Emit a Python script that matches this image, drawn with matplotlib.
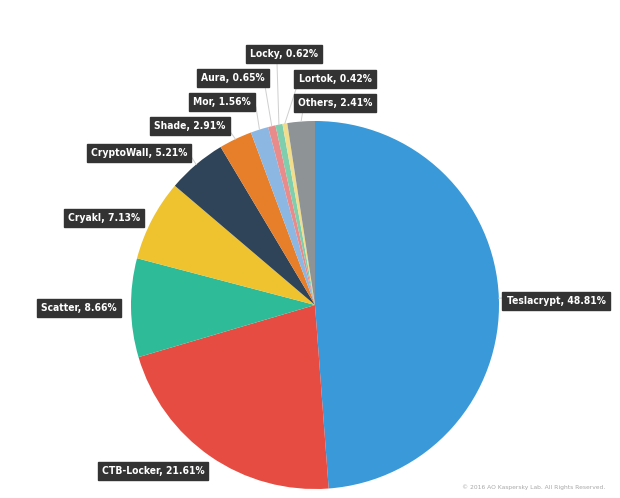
import matplotlib
matplotlib.use("Agg")
import matplotlib.pyplot as plt
import numpy as np

names = ["Teslacrypt", "CTB-Locker", "Scatter", "Cryakl", "CryptoWall", "Shade",
         "Mor", "Aura", "Locky", "Lortok", "Others"]
shares = [48.81, 21.61, 8.66, 7.13, 5.21, 2.91, 1.56, 0.65, 0.62, 0.42, 2.41]
colors = ["#3a99d8", "#e64c41", "#2ebb98", "#efc230", "#2f4458", "#e67e2a",
          "#8db7e3", "#e88b8a", "#7fcfae", "#f2dd8c", "#8e9396"]

# label box centres in pixel coords (x, y from top)
label_pos = [(556, 301), (153, 471), (79, 308), (104, 218), (139, 153), (190, 126),
             (222, 102), (233, 78), (284, 54), (335, 79), (335, 103)]
# leader line label-side end (pixel coords)
line_end = [(505, 298), None, None, None, (189, 153), (229, 130),
            (256, 107), (265, 86), (277, 63), (297, 86), (303, 110)]

W, H = 620, 498
fig = plt.figure(figsize=(W / 100, H / 100), dpi=100)
ax = fig.add_axes([0, 0, 1, 1])

cx, cy, R = 315, H - 305, 184
wedges, _ = ax.pie(shares, colors=colors, startangle=90, counterclock=False,
                   center=(cx, cy), radius=R, wedgeprops=dict(linewidth=0))
ax.set_xlim(0, W)
ax.set_ylim(0, H)
ax.set_aspect("equal")
ax.axis("off")

fam = ["DejaVu Sans"]
for w, n, s, (lx, ly), le in zip(wedges, names, shares, label_pos, line_end):
    if le is not None:
        mid = np.deg2rad((w.theta1 + w.theta2) / 2)
        ex, ey = cx + R * np.cos(mid), cy + R * np.sin(mid)
        ax.plot([ex, le[0]], [ey, H - le[1]], color="#cfcfcf", lw=0.7, zorder=1)
    ax.text(lx, H - ly, f"{n}, {s:.2f}%", ha="center", va="center",
            fontsize=7.4, fontweight="bold", fontstretch="condensed",
            color="white", family=fam,
            bbox=dict(boxstyle="square,pad=0.4", fc="#333333", ec="#333333"),
            zorder=5)

ax.text(605, H - 487, "© 2016 AO Kaspersky Lab. All Rights Reserved.", ha="right",
        va="center", fontsize=4.3, color="#a8a8a8", family=["DejaVu Sans"])

fig.savefig("out.png", dpi=100)
